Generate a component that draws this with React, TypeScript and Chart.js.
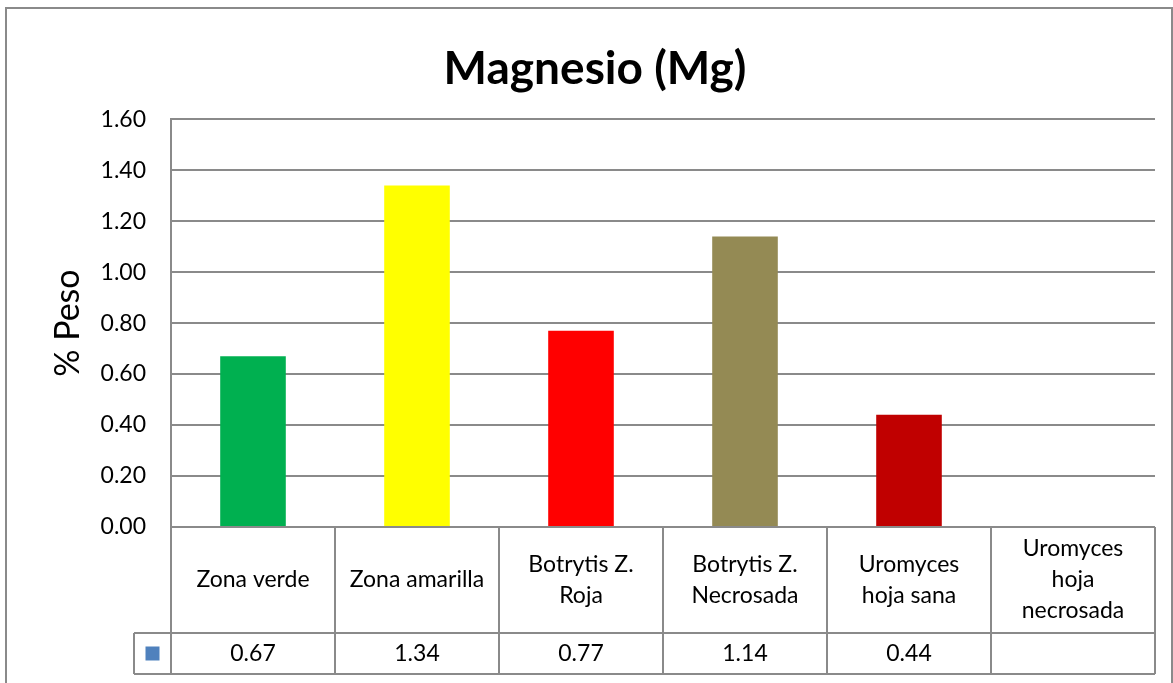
import React, { useEffect, useRef } from "react";
import { Chart, registerables } from "chart.js";

Chart.register(...registerables);

const title = "Magnesio (Mg)";
const yAxisTitle = "% Peso";
const categories: string[][] = [
  ["Zona verde"],
  ["Zona amarilla"],
  ["Botrytis Z.", "Roja"],
  ["Botrytis Z.", "Necrosada"],
  ["Uromyces", "hoja sana"],
  ["Uromyces", "hoja", "necrosada"],
];
const values: (number | null)[] = [0.67, 1.34, 0.77, 1.14, 0.44, null];
const barColors = ["#00B050", "#FFFF00", "#FF0000", "#948A54", "#C00000", "#4F81BD"];
const legendColor = "#4F81BD";
const yMin = 0;
const yMax = 1.6;
const yStep = 0.2;

const FONT = "Lato, 'Open Sans', sans-serif";
const LINE = "#8a8a8a";

const frameAndTable = {
  id: "frameAndTable",
  afterDraw(chart: any) {
    const { ctx, chartArea } = chart;
    const { left, right, bottom } = chartArea;
    const xs = chart.scales.x;
    const n = categories.length;
    const colW = (right - left) / n;
    const headerBottom = bottom + 106;
    const rowBottom = headerBottom + 41;
    const legendLeft = left - 37;
    ctx.save();
    // outer frame
    ctx.strokeStyle = LINE;
    ctx.lineWidth = 2;
    ctx.strokeRect(6, 8, chart.width - 7, chart.height + 20);
    // table lines
    const line = (x1: number, y1: number, x2: number, y2: number) => {
      ctx.beginPath();
      ctx.moveTo(x1, y1);
      ctx.lineTo(x2, y2);
      ctx.stroke();
    };
    line(left, bottom, right, bottom);
    line(legendLeft, headerBottom, right, headerBottom);
    line(legendLeft, rowBottom, right, rowBottom);
    line(legendLeft, headerBottom, legendLeft, rowBottom);
    for (let i = 0; i < n; i++) {
      const c = xs.getPixelForValue(i);
      line(c - colW / 2, bottom, c - colW / 2, rowBottom);
      if (i === n - 1) line(c + colW / 2, bottom, c + colW / 2, rowBottom);
    }
    // texts
    ctx.fillStyle = "#000";
    ctx.textAlign = "center";
    ctx.textBaseline = "middle";
    ctx.font = `23px ${FONT}`;
    const lh = 31;
    const headerMid = (bottom + headerBottom) / 2;
    const rowMid = (headerBottom + rowBottom) / 2;
    for (let i = 0; i < n; i++) {
      const c = xs.getPixelForValue(i);
      const lines = categories[i];
      const start = headerMid - ((lines.length - 1) * lh) / 2;
      lines.forEach((t, k) => ctx.fillText(t, c, start + k * lh));
      const v = values[i];
      if (v !== null) ctx.fillText(v.toFixed(2), c, rowMid);
    }
    // legend key
    ctx.fillStyle = legendColor;
    ctx.fillRect((legendLeft + left) / 2 - 7, rowMid - 7, 14, 14);
    ctx.restore();
  },
};

export default function App() {
  const ref = useRef<HTMLCanvasElement | null>(null);
  useEffect(() => {
    if (!ref.current) return;
    Chart.defaults.font.family = FONT;
    const chart = new Chart(ref.current, {
      type: "bar",
      data: {
        labels: categories.map((c) => c.join(" ")),
        datasets: [
          {
            label: "Mg",
            data: values,
            backgroundColor: barColors,
            categoryPercentage: 1,
            barPercentage: 0.4,
          },
        ],
      },
      options: {
        animation: false,
        responsive: false,
        layout: { padding: { left: 35, right: 18, top: 0, bottom: 156 } },
        plugins: {
          legend: { display: false },
          tooltip: { enabled: false },
          title: {
            display: true,
            text: title,
            color: "#000",
            font: { size: 46, weight: "bold", family: FONT, lineHeight: 1.2 },
            padding: { top: 42, bottom: 22 },
          },
        },
        scales: {
          x: { display: false },
          y: {
            min: yMin,
            max: yMax,
            afterFit: (s: any) => {
              s.width = 136;
            },
            ticks: {
              stepSize: yStep,
              color: "#000",
              padding: 25,
              font: { size: 23, family: FONT },
              callback: (v: any) => Number(v).toFixed(2),
            },
            grid: { color: LINE, lineWidth: 2, drawTicks: false },
            border: { display: true, color: LINE, width: 2 },
            title: {
              display: true,
              text: yAxisTitle,
              color: "#000",
              font: { size: 34, family: FONT, lineHeight: 1.2 },
              padding: { top: 13, bottom: 0 },
            },
          },
        },
      },
      plugins: [frameAndTable],
    });
    return () => chart.destroy();
  }, []);
  return (
    <div style={{ position: "absolute", left: 0, top: 0, width: 1173, height: 683, background: "#fff" }}>
      <canvas ref={ref} width={1173} height={683} style={{ display: "block" }} />
    </div>
  );
}
